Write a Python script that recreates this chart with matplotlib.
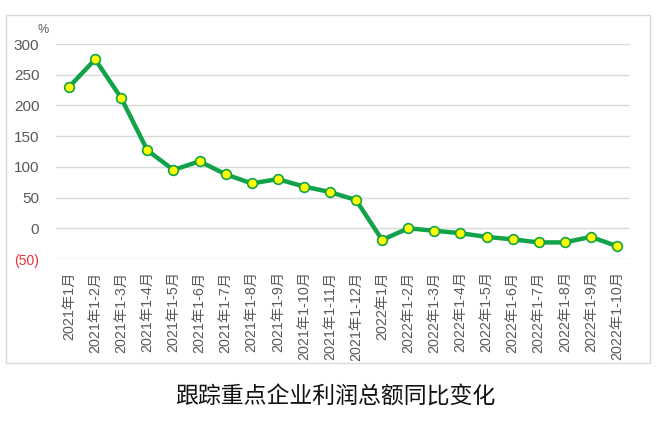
import matplotlib
matplotlib.use("Agg")
import matplotlib.pyplot as plt
from matplotlib.patches import Rectangle

# 跟踪重点企业利润总额同比变化 (%)
months = ["2021年1月", "2021年1-2月", "2021年1-3月", "2021年1-4月", "2021年1-5月",
          "2021年1-6月", "2021年1-7月", "2021年1-8月", "2021年1-9月", "2021年1-10月",
          "2021年1-11月", "2021年1-12月", "2022年1月", "2022年1-2月", "2022年1-3月",
          "2022年1-4月", "2022年1-5月", "2022年1-6月", "2022年1-7月", "2022年1-8月",
          "2022年1-9月", "2022年1-10月"]
growth = [230, 275, 212, 127, 95, 109, 88, 73, 80, 68, 59, 46,
          -19, 0, -4, -8, -14, -18, -23, -23, -14, -29]
yticks = [-50, 0, 50, 100, 150, 200, 250, 300]
ylabels = ["(50)", "0", "50", "100", "150", "200", "250", "300"]

fams = ["Liberation Sans", "Noto Sans CJK SC", "DejaVu Sans"]
plt.rcParams["font.family"] = fams

fig = plt.figure(figsize=(6.6, 4.3), dpi=100)
fig.patches.append(Rectangle((6 / 660, 1 - 363 / 430), 644 / 660, 348 / 430,
                             transform=fig.transFigure, fill=False,
                             edgecolor="#D9D9D9", linewidth=1.0))

ax = fig.add_axes([56 / 660, 1 - 259 / 430, 574 / 660, 215 / 430])
x = list(range(len(months)))
ax.plot(x, growth, color="#12A34A", linewidth=3.2, marker="o", markersize=7,
        markerfacecolor="#FFFF00", markeredgecolor="#12A34A", markeredgewidth=1.2,
        zorder=3)

ax.set_xlim(-0.5, len(months) - 0.5)
ax.set_ylim(-50, 300)
ax.set_yticks(yticks)
ax.set_yticklabels(ylabels, fontsize=11, color="#595959")
ax.get_yticklabels()[0].set_color("#E8323C")
ax.get_yticklabels()[0].set_fontsize(10)
ax.set_xticks(x)
ax.set_xticklabels(months, rotation=90, fontsize=10.3, color="#595959", va="top")
ax.tick_params(axis="both", length=0)
ax.tick_params(axis="y", pad=12)
ax.tick_params(axis="x", pad=9)
ax.grid(axis="y", color="#D9D9D9", linewidth=1.0)
ax.set_axisbelow(True)
for s in ax.spines.values():
    s.set_visible(False)

fig.text(43 / 660, 1 - 30 / 430, "%", fontsize=9, color="#595959",
         ha="center", va="center")
fig.text(335 / 660, 1 - 397 / 430, "跟踪重点企业利润总额同比变化", fontsize=16.5,
         ha="center", va="center", color="#111111", fontweight="medium",
         family=["Noto Sans CJK SC", "DejaVu Sans"])

fig.savefig("out.png", dpi=100)
